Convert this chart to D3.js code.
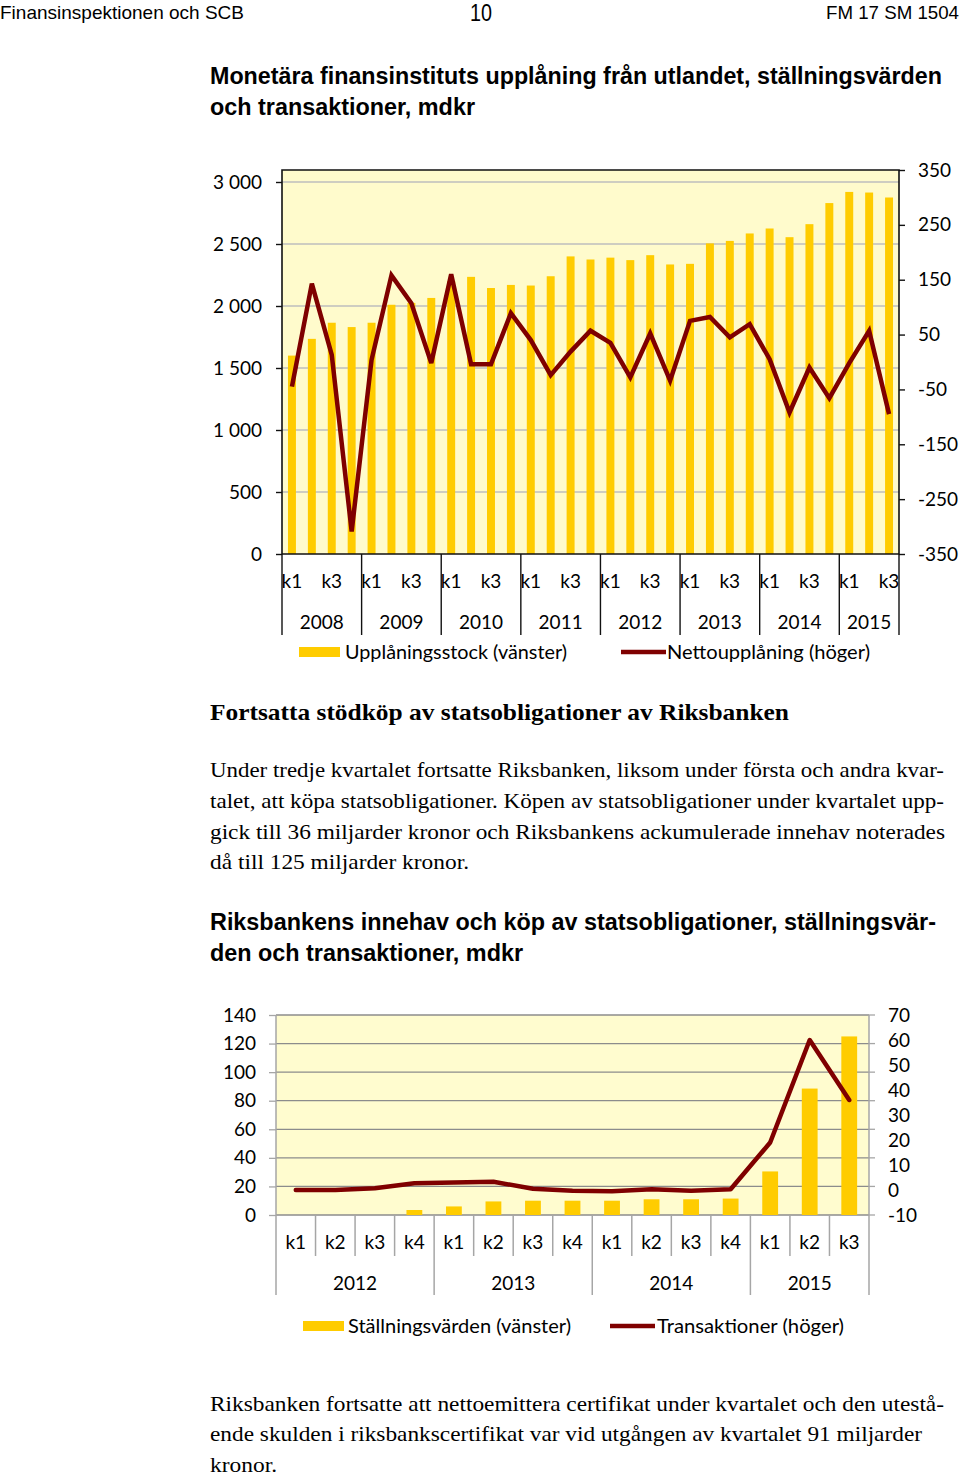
<!DOCTYPE html>
<html>
<head>
<meta charset="utf-8">
<script src="https://cdnjs.cloudflare.com/ajax/libs/d3/7.8.5/d3.min.js"></script>
<style>
  html, body { margin: 0; padding: 0; background: #fff; }
  svg { display: block; }
</style>
</head>
<body>
<svg id="page" width="960" height="1477"></svg>
<script>
// ---------- Chart 1 data ----------
const years1 = ["2008","2009","2010","2011","2012","2013","2014","2015"];
const quartersPerYear1 = [4,4,4,4,4,4,4,3];
const quarterNames = ["k1","k2","k3","k4"];
const stock1 = [1600,1735,1865,1830, 1865,2010,2025,2065, 2200,2235,2145,2170, 2165,2240,2400,2375,
                2390,2370,2410,2335, 2340,2505,2525,2585, 2625,2555,2660,2830, 2920,2915,2875];
const net1 = [-45,143,13,-309, 4,158,107,-2, 160,-4,-4,89, 40,-24,19,57,
              35,-28,52,-34, 75,82,45,69, 5,-92,-10,-66, -2,57,-95];
const leftTicks1 = [0,500,1000,1500,2000,2500,3000];
const rightTicks1 = [-350,-250,-150,-50,50,150,250,350];
const shownQuarters1 = ["k1","k3"];

// ---------- Chart 2 data ----------
const years2 = ["2012","2013","2014","2015"];
const quartersPerYear2 = [4,4,4,3];
const holdings2 = [0,0,0,3.5, 6,9.5,10,10, 10,11,11,11.5, 30.5,88.5,125];
const trans2 = [0,0,0.7,2.7, 3,3.3,0.5,-0.3, -0.5,0.3,-0.3,0.3, 19,60,36];
const leftTicks2 = [0,20,40,60,80,100,120,140];
const rightTicks2 = [-10,0,10,20,30,40,50,60,70];

const BAR = "#FFCC00", LINE = "#7F0000";
const svg = d3.select("#page");
const chartFont = "Lato, 'Open Sans', sans-serif";
const sansFont = "'Liberation Sans', Arial, sans-serif";
const serifFont = "'Liberation Serif','Times New Roman', serif";
const loc = d3.formatLocale({decimal: ",", thousands: "\u00a0", grouping: [3], currency: ["", ""], minus: "-"});
const fmtThousand = loc.format(",d");
const fmtPlain = d => String(d);

function txt(x, y, s, opts) {
  const t = svg.append("text").attr("x", x).attr("y", y).text(s)
    .attr("font-family", opts.family).attr("font-size", opts.size)
    .attr("fill", opts.fill || "#000");
  if (opts.weight) t.attr("font-weight", opts.weight);
  if (opts.anchor) t.attr("text-anchor", opts.anchor);
  if (opts.len) t.attr("textLength", opts.len).attr("lengthAdjust", "spacingAndGlyphs");
  return t;
}

// ---------- page header ----------
txt(0, 19, "Finansinspektionen och SCB", {family: sansFont, size: 19, len: 244});
txt(470, 21, "10", {family: sansFont, size: 23, len: 22});
txt(826, 19, "FM 17 SM 1504", {family: sansFont, size: 18.5, len: 133});

// ---------- chart 1 titles ----------
txt(210, 84, "Monetära finansinstituts upplåning från utlandet, ställningsvärden", {family: sansFont, size: 23, weight: "bold", len: 732});
txt(210, 115, "och transaktioner, mdkr", {family: sansFont, size: 23, weight: "bold", len: 265});

// ---------- chart 1 ----------
(function(){
  const cats = [];
  years1.forEach((y, i) => { for (let q = 0; q < quartersPerYear1[i]; q++) cats.push(y + quarterNames[q]); });
  const x = d3.scaleBand().domain(cats).range([282, 899]).padding(0);
  const yL = d3.scaleLinear().domain([0, 3000]).range([554, 182]);
  const yR = d3.scaleLinear().domain([-350, 350]).range([554, 170]);
  const top = yR(350), bottom = yL(0), left = 282, right = 899;
  const g = svg.append("g");

  g.append("rect").attr("x", left).attr("y", top).attr("width", right - left).attr("height", bottom - top)
    .attr("fill", "#FFFBCC");
  g.selectAll(".grid").data(leftTicks1.filter(d => d > 0)).join("line")
    .attr("x1", left).attr("x2", right).attr("y1", d => yL(d)).attr("y2", d => yL(d))
    .attr("stroke", "#BEBEBE").attr("stroke-width", 1.3);
  g.selectAll(".bar").data(stock1).join("rect")
    .attr("x", (d, i) => x(cats[i]) + x.bandwidth() * 0.3)
    .attr("width", x.bandwidth() * 0.4)
    .attr("y", d => yL(d)).attr("height", d => yL(0) - yL(d))
    .attr("fill", BAR);
  g.append("path").attr("d", `M${left},${bottom}V${top}H${right}V${bottom}`)
    .attr("fill", "none").attr("stroke", "#111").attr("stroke-width", 1.6);
  const la = g.append("g").attr("transform", `translate(${left},0)`)
    .call(d3.axisLeft(yL).tickValues(leftTicks1).tickSize(6).tickPadding(14).tickFormat(fmtThousand));
  la.select(".domain").remove();
  la.selectAll("line").attr("stroke", "#111").attr("stroke-width", 1.4);
  la.selectAll("text").attr("font-family", chartFont).attr("font-size", 19).attr("fill", "#000");
  const ra = g.append("g").attr("transform", `translate(${right},0)`)
    .call(d3.axisRight(yR).tickValues(rightTicks1).tickSize(6).tickPadding(13).tickFormat(fmtPlain));
  ra.select(".domain").remove();
  ra.selectAll("line").attr("stroke", "#111").attr("stroke-width", 1.4);
  ra.selectAll("text").attr("font-family", chartFont).attr("font-size", 19).attr("fill", "#000");
  g.append("line").attr("x1", left).attr("x2", right).attr("y1", bottom).attr("y2", bottom)
    .attr("stroke", "#111").attr("stroke-width", 1.6);
  const bounds = [];
  let idx = 0;
  years1.forEach((y, i) => { bounds.push({year: y, start: idx, end: idx + quartersPerYear1[i]}); idx += quartersPerYear1[i]; });
  const edge = i => (i < cats.length ? x(cats[i]) : right);
  const seps = [left].concat(bounds.map(b => edge(b.end)));
  g.selectAll(".sep").data(seps).join("line")
    .attr("x1", d => d).attr("x2", d => d).attr("y1", bottom).attr("y2", 635)
    .attr("stroke", "#111").attr("stroke-width", 1.4);
  g.selectAll(".ql").data(cats.filter(c => shownQuarters1.includes(c.slice(4)))).join("text")
    .attr("x", d => x(d) + x.bandwidth() / 2).attr("y", 588)
    .attr("text-anchor", "middle").attr("font-family", chartFont).attr("font-size", 19)
    .text(d => d.slice(4));
  g.selectAll(".yl").data(bounds).join("text")
    .attr("x", b => (edge(b.start) + edge(b.end)) / 2).attr("y", 629)
    .attr("text-anchor", "middle").attr("font-family", chartFont).attr("font-size", 19)
    .text(b => b.year);
  const line = d3.line().x((d, i) => x(cats[i]) + x.bandwidth() / 2).y(d => yR(d));
  g.append("path").datum(net1).attr("d", line).attr("fill", "none")
    .attr("stroke", LINE).attr("stroke-width", 4.5).attr("stroke-linejoin", "miter").attr("stroke-miterlimit", 3);
  g.append("rect").attr("x", 299).attr("y", 647).attr("width", 41).attr("height", 10).attr("fill", BAR);
  txt(345, 659, "Upplåningsstock (vänster)", {family: chartFont, size: 19, len: 222});
  g.append("line").attr("x1", 621).attr("x2", 666).attr("y1", 652).attr("y2", 652)
    .attr("stroke", LINE).attr("stroke-width", 4.5);
  txt(667, 659, "Nettoupplåning (höger)", {family: chartFont, size: 19, len: 203});
})();

// ---------- text block ----------
txt(210, 720, "Fortsatta stödköp av statsobligationer av Riksbanken", {family: serifFont, size: 24, weight: "bold", len: 579});
const para1 = [
  ["Under tredje kvartalet fortsatte Riksbanken, liksom under första och andra kvar-", 734],
  ["talet, att köpa statsobligationer. Köpen av statsobligationer under kvartalet upp-", 734],
  ["gick till 36 miljarder kronor och Riksbankens ackumulerade innehav noterades", 735],
  ["då till 125 miljarder kronor.", 259]
];
para1.forEach((l, i) => txt(210, 777 + i * 30.8, l[0], {family: serifFont, size: 22, len: l[1]}));

// ---------- chart 2 titles ----------
txt(210, 930, "Riksbankens innehav och köp av statsobligationer, ställningsvär-", {family: sansFont, size: 23, weight: "bold", len: 726});
txt(210, 961, "den och transaktioner, mdkr", {family: sansFont, size: 23, weight: "bold", len: 313});

// ---------- chart 2 ----------
(function(){
  const cats = [];
  years2.forEach((y, i) => { for (let q = 0; q < quartersPerYear2[i]; q++) cats.push(y + quarterNames[q]); });
  const x = d3.scaleBand().domain(cats).range([276, 869]).padding(0);
  const yL = d3.scaleLinear().domain([0, 140]).range([1215, 1015]);
  const yR = d3.scaleLinear().domain([-10, 70]).range([1215, 1015]);
  const left = 276, right = 869, top = yL(140), bottom = yL(0);
  const g = svg.append("g");
  const AX = "#A6A6A6";

  g.append("rect").attr("x", left).attr("y", top).attr("width", right - left).attr("height", bottom - top)
    .attr("fill", "#FFFCCF");
  g.selectAll(".grid").data(leftTicks2).join("line")
    .attr("x1", left).attr("x2", right).attr("y1", d => yL(d)).attr("y2", d => yL(d))
    .attr("stroke", "#8C8C8C").attr("stroke-width", 1.3);
  g.selectAll(".bar").data(holdings2).join("rect")
    .attr("x", (d, i) => x(cats[i]) + x.bandwidth() * 0.3)
    .attr("width", x.bandwidth() * 0.4)
    .attr("y", d => yL(d)).attr("height", d => yL(0) - yL(d))
    .attr("fill", BAR);
  const la = g.append("g").attr("transform", `translate(${left},0)`)
    .call(d3.axisLeft(yL).tickValues(leftTicks2).tickSize(7).tickPadding(13).tickFormat(fmtPlain));
  la.select(".domain").remove();
  la.selectAll("line").attr("stroke", AX).attr("stroke-width", 1.3);
  la.selectAll("text").attr("font-family", chartFont).attr("font-size", 19).attr("fill", "#000");
  const ra = g.append("g").attr("transform", `translate(${right},0)`)
    .call(d3.axisRight(yR).tickValues(rightTicks2).tickSize(0).tickPadding(19).tickFormat(fmtPlain));
  ra.select(".domain").remove();
  ra.selectAll("text").attr("font-family", chartFont).attr("font-size", 19).attr("fill", "#000");
  g.selectAll(".rt").data(leftTicks2).join("line")
    .attr("x1", right).attr("x2", right + 6).attr("y1", d => yL(d)).attr("y2", d => yL(d))
    .attr("stroke", AX).attr("stroke-width", 1.3);
  [left, right].forEach(v => g.append("line").attr("x1", v).attr("x2", v).attr("y1", top).attr("y2", 1295)
    .attr("stroke", AX).attr("stroke-width", 1.5));
  const bounds = [];
  let idx = 0;
  years2.forEach((y, i) => { bounds.push({year: y, start: idx, end: idx + quartersPerYear2[i]}); idx += quartersPerYear2[i]; });
  const edge = i => (i < cats.length ? x(cats[i]) : right);
  const yearEdges = bounds.map(b => b.end).filter(e => e < cats.length);
  const qEdges = d3.range(1, cats.length).filter(e => !yearEdges.includes(e));
  g.selectAll(".qs").data(qEdges).join("line")
    .attr("x1", e => edge(e)).attr("x2", e => edge(e)).attr("y1", bottom).attr("y2", 1256)
    .attr("stroke", AX).attr("stroke-width", 1.5);
  g.selectAll(".ys").data(yearEdges).join("line")
    .attr("x1", e => edge(e)).attr("x2", e => edge(e)).attr("y1", bottom).attr("y2", 1295)
    .attr("stroke", AX).attr("stroke-width", 1.5);
  g.selectAll(".ql").data(cats).join("text")
    .attr("x", d => x(d) + x.bandwidth() / 2).attr("y", 1249)
    .attr("text-anchor", "middle").attr("font-family", chartFont).attr("font-size", 19)
    .text(d => d.slice(4));
  g.selectAll(".yl").data(bounds).join("text")
    .attr("x", b => (edge(b.start) + edge(b.end)) / 2).attr("y", 1290)
    .attr("text-anchor", "middle").attr("font-family", chartFont).attr("font-size", 19)
    .text(b => b.year);
  const line = d3.line().x((d, i) => x(cats[i]) + x.bandwidth() / 2).y(d => yR(d));
  g.append("path").datum(trans2).attr("d", line).attr("fill", "none")
    .attr("stroke", LINE).attr("stroke-width", 4.5).attr("stroke-linejoin", "round").attr("stroke-linecap", "round");
  g.append("rect").attr("x", 303).attr("y", 1321).attr("width", 41).attr("height", 10).attr("fill", BAR);
  txt(348, 1333, "Ställningsvärden (vänster)", {family: chartFont, size: 19, len: 223});
  g.append("line").attr("x1", 610).attr("x2", 655).attr("y1", 1326).attr("y2", 1326)
    .attr("stroke", LINE).attr("stroke-width", 4.5);
  txt(657, 1333, "Transaktioner (höger)", {family: chartFont, size: 19, len: 187});
})();

// ---------- bottom paragraph ----------
const para2 = [
  ["Riksbanken fortsatte att nettoemittera certifikat under kvartalet och den utestå-", 734],
  ["ende skulden i riksbankscertifikat var vid utgången av kvartalet 91 miljarder", 712],
  ["kronor.", 67]
];
para2.forEach((l, i) => txt(210, 1410.5 + i * 30.5, l[0], {family: serifFont, size: 21.5, len: l[1]}));
</script>
</body>
</html>
